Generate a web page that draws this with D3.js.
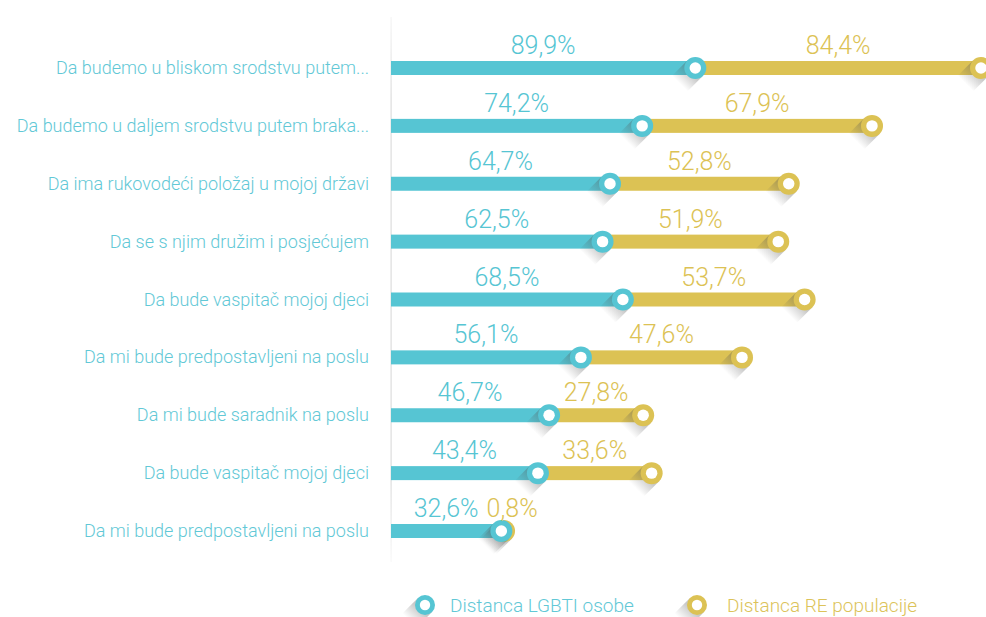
<!DOCTYPE html>
<html>
<head>
<meta charset="utf-8">
<script src="https://cdn.jsdelivr.net/npm/d3@7"></script>
<style>
  body { margin: 0; background: #fff; }
  svg { display: block; }
</style>
</head>
<body>
<div id="canvas"></div>
<script>
const categories = [
  "Da budemo u bliskom srodstvu putem...",
  "Da budemo u daljem srodstvu putem braka...",
  "Da ima rukovodeći položaj u mojoj državi",
  "Da se s njim družim i posjećujem",
  "Da bude vaspitač mojoj djeci",
  "Da mi bude predpostavljeni na poslu",
  "Da mi bude saradnik na poslu",
  "Da bude vaspitač mojoj djeci",
  "Da mi bude predpostavljeni na poslu"
];
const lgbti = [89.9, 74.2, 64.7, 62.5, 68.5, 56.1, 46.7, 43.4, 32.6];
const re = [84.4, 67.9, 52.8, 51.9, 53.7, 47.6, 27.8, 33.6, 0.8];
const seriesNames = ["Distanca LGBTI osobe", "Distanca RE populacije"];

const teal = "#56c5d3";
const gold = "#dcc254";
const tealText = "#62c8d6";
const goldText = "#dcc35a";

const width = 986;
const height = 617;
const margin = { left: 391 };

const rows = categories.map((c, i) => ({ i, name: c, a: lgbti[i], b: re[i] }));

const svg = d3.select("#canvas").append("svg")
  .attr("width", width)
  .attr("height", height);

const defs = svg.append("defs");
const ag = defs.append("linearGradient").attr("id", "axisfade")
  .attr("x1", 0).attr("y1", 0).attr("x2", 0).attr("y2", 1);
ag.append("stop").attr("offset", 0).attr("stop-color", "#ddd").attr("stop-opacity", 0.3);
ag.append("stop").attr("offset", 0.15).attr("stop-color", "#ddd").attr("stop-opacity", 1);
ag.append("stop").attr("offset", 0.85).attr("stop-color", "#ddd").attr("stop-opacity", 1);
ag.append("stop").attr("offset", 1).attr("stop-color", "#ddd").attr("stop-opacity", 0.2);

const x = d3.scaleLinear()
  .domain([0, d3.max(rows, d => d.a + d.b)])
  .range([margin.left, 981]);

const y = d3.scalePoint()
  .domain(d3.range(categories.length))
  .range([68, 531]);

const fmt = v => d3.format(".1f")(v).replace(".", ",") + "%";

// axis line
svg.append("rect")
  .attr("x", margin.left - 0.5).attr("y", 17)
  .attr("width", 1.2).attr("height", 545)
  .attr("fill", "url(#axisfade)");

// category labels
svg.append("g").selectAll("text").data(rows).join("text")
  .attr("x", 369)
  .attr("y", d => y(d.i) + 6)
  .attr("text-anchor", "end")
  .attr("fill", tealText)
  .style("font-family", "Roboto, sans-serif")
  .style("font-weight", 300)
  .style("font-size", "18px")
  .text(d => d.name);

const barH = 14;

// bars
svg.append("g").selectAll("rect").data(rows).join("rect")
  .attr("x", d => x(0))
  .attr("y", d => y(d.i) - barH / 2)
  .attr("width", d => x(d.a) - x(0))
  .attr("height", barH)
  .attr("fill", teal);

svg.append("g").selectAll("rect").data(rows).join("rect")
  .attr("x", d => x(d.a))
  .attr("y", d => y(d.i) - barH / 2)
  .attr("width", d => x(d.a + d.b) - x(d.a))
  .attr("height", barH)
  .attr("fill", gold);

// long shadow down-left of an end marker
let sid = 0;
function marker(g, cx, cy, color, r) {
  const k = Math.SQRT1_2, len = 22;
  const p = r * k, dx = -len * k, dy = len * k;   // p: offset along (1,1), perpendicular to the shadow
  const id = "sh" + (sid++);
  const grad = defs.append("linearGradient").attr("id", id)
    .attr("gradientUnits", "userSpaceOnUse")
    .attr("x1", cx + dx * 0.3).attr("y1", cy + dy * 0.3)
    .attr("x2", cx + dx).attr("y2", cy + dy);
  grad.append("stop").attr("offset", 0).attr("stop-color", "#555").attr("stop-opacity", 0.32);
  grad.append("stop").attr("offset", 1).attr("stop-color", "#555").attr("stop-opacity", 0);
  g.append("path")
    .attr("d", `M${cx + p},${cy + p} L${cx - p},${cy - p} L${cx - p + dx},${cy - p + dy} L${cx + p + dx},${cy + p + dy} Z`)
    .attr("fill", `url(#${id})`);
  g.append("circle").attr("cx", cx).attr("cy", cy).attr("r", r).attr("fill", color);
  g.append("circle").attr("cx", cx).attr("cy", cy).attr("r", r * 0.52).attr("fill", "#fff");
}

const mk = svg.append("g");
rows.forEach(d => marker(mk, x(d.a + d.b), y(d.i), gold, 11));
rows.forEach(d => marker(mk, x(d.a), y(d.i), teal, 11));

// value labels
const valStyle = sel => sel
  .attr("text-anchor", "middle")
  .style("font-family", "Roboto, sans-serif")
  .style("font-weight", 300)
  .style("font-size", "25px");

const tl = svg.append("g").selectAll("text").data(rows).join("text")
  .attr("x", d => (x(0) + x(d.a)) / 2)
  .attr("y", d => y(d.i) - 14)
  .attr("fill", teal)
  .call(valStyle)
  .text(d => fmt(d.a));

svg.append("g").selectAll("text").data(rows).join("text")
  .attr("y", d => y(d.i) - 14)
  .attr("fill", gold)
  .call(valStyle)
  .text(d => fmt(d.b))
  .attr("x", function(d) {
    const mid = (x(d.a) + x(d.a + d.b)) / 2;
    const left = tl.nodes()[d.i].getBBox();
    const w = this.getComputedTextLength();
    return Math.max(mid, left.x + left.width + 8 + w / 2);
  });

// legend
const lg = svg.append("g");
const legendItems = [
  { name: seriesNames[0], color: teal, text: tealText, cx: 425, tx: 450 },
  { name: seriesNames[1], color: gold, text: goldText, cx: 697, tx: 727 }
];
legendItems.forEach(it => {
  marker(lg, it.cx, 605, it.color, 10);
  lg.append("text")
    .attr("x", it.tx).attr("y", 612)
    .attr("fill", it.text)
    .style("font-family", "Roboto, sans-serif")
    .style("font-weight", 300)
    .style("font-size", "19px")
    .text(it.name);
});
</script>
</body>
</html>
